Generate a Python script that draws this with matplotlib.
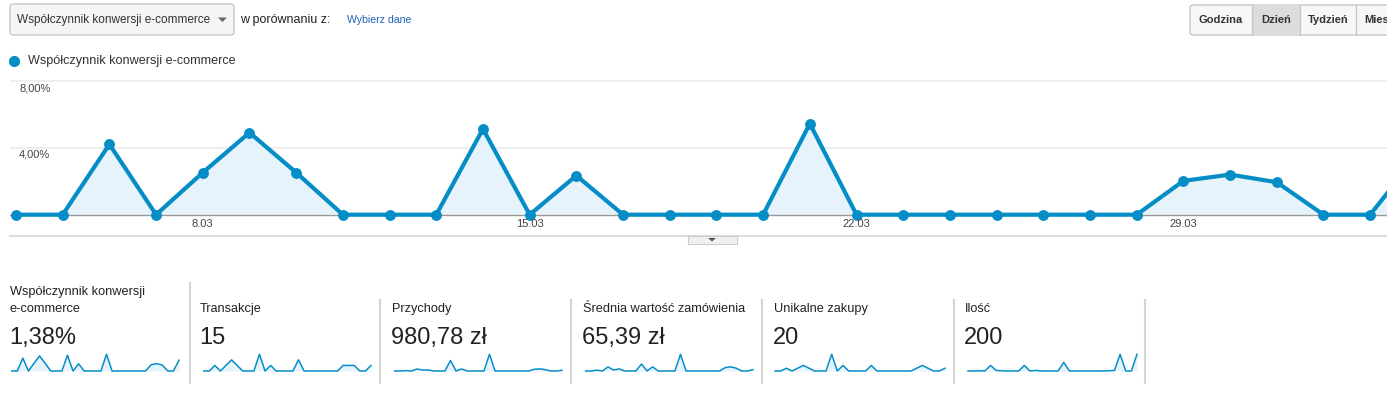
import matplotlib.pyplot as plt
from matplotlib.patches import Rectangle, FancyBboxPatch, Polygon
from matplotlib.transforms import Affine2D

plt.rcParams['font.family'] = ['Liberation Sans', 'DejaVu Sans']

# dni (4.03 - 3.04)
days = ['4.03', '5.03', '6.03', '7.03', '8.03', '9.03', '10.03', '11.03', '12.03', '13.03',
        '14.03', '15.03', '16.03', '17.03', '18.03', '19.03', '20.03', '21.03', '22.03', '23.03',
        '24.03', '25.03', '26.03', '27.03', '28.03', '29.03', '30.03', '31.03', '1.04', '2.04', '3.04']
tick_days = ['8.03', '15.03', '22.03', '29.03']
y_ticks = [4, 8]
y_tick_labels = ['4,00%', '8,00%']

conversion = [0, 0, 4.23, 0, 2.53, 4.93, 2.53, 0, 0, 0, 5.15, 0, 2.35, 0, 0, 0,
              0, 5.47, 0, 0, 0, 0, 0, 0, 0, 2.03, 2.41, 1.95, 0, 0, 3.54]
transactions = [0, 0, 1, 0, 1, 2, 1, 0, 0, 0, 3, 0, 1, 0, 0, 0,
                0, 2, 0, 0, 0, 0, 0, 0, 0, 1, 1, 1, 0, 0, 1]
revenue = [0, 0, 9.90, 0, 49.90, 24.50, 26.00, 0, 0, 0, 259.80, 0, 51.20, 0, 0, 0,
           0, 414.28, 0, 0, 0, 0, 0, 0, 0, 41.50, 52.00, 34.50, 0, 0, 17.20]
avg_order = [0, 0, 9.90, 0, 49.90, 12.25, 26.00, 0, 0, 0, 86.60, 0, 51.20, 0, 0, 0,
             0, 207.14, 0, 0, 0, 0, 0, 0, 0, 41.50, 52.00, 34.50, 0, 0, 17.20]
unique_buys = [0, 0, 1, 0, 1, 2, 1, 0, 0, 0, 6, 0, 2, 0, 0, 0,
               0, 2, 0, 0, 0, 0, 0, 0, 0, 1, 2, 1, 0, 0, 1]
quantity = [0, 0, 1, 0, 20, 2, 1, 0, 0, 0, 20, 0, 2, 0, 0, 0,
            0, 31, 0, 0, 0, 0, 0, 0, 0, 1, 2, 60, 0, 0, 60]

card_titles = ['Współczynnik konwersji\ne-commerce', 'Transakcje', 'Przychody',
               'Średnia wartość zamówienia', 'Unikalne zakupy', 'Ilość']
card_values = ['1,38%', '15', '980,78 zł', '65,39 zł', '20', '200']
card_series = [conversion, transactions, revenue, avg_order, unique_buys, quantity]

BLUE = '#058dc7'
FILL = '#e6f3fa'
W, H = 1387, 398

fig = plt.figure(figsize=(W / 100, H / 100), dpi=100)
fig.patch.set_facecolor('white')

# współrzędne w pikselach (y w dół)
T = Affine2D().scale(1 / W, -1 / H).translate(0, 1) + fig.transFigure


def px_axes(x0, y0, x1, y1):
    return fig.add_axes([x0 / W, 1 - y1 / H, (x1 - x0) / W, (y1 - y0) / H])


# --- górny pasek ---
fig.add_artist(FancyBboxPatch((10, 4), 224, 31, boxstyle='round,pad=0,rounding_size=3',
                              transform=T, facecolor='#f5f5f5', edgecolor='#c8c8c8', lw=1))
fig.text(17, 20, 'Współczynnik konwersji e-commerce', transform=T, fontsize=8.5,
         color='#333333', va='center')
fig.add_artist(Polygon([[218, 17.5], [227, 17.5], [222.5, 22]], closed=True, transform=T,
                       facecolor='#666666', edgecolor='none'))
fig.text(240, 20, 'w porównaniu z:', transform=T, fontsize=9, color='#222222', va='center')
fig.text(347, 20, 'Wybierz dane', transform=T, fontsize=7.6, color='#1c63b7', va='center')

fig.add_artist(FancyBboxPatch((1190, 5), 215, 30, boxstyle='round,pad=0,rounding_size=3',
                              transform=T, facecolor='#f7f7f7', edgecolor='#c8c8c8', lw=1))
fig.add_artist(Rectangle((1252, 5), 48, 30, transform=T, facecolor='#dcdcdc',
                         edgecolor='none'))
for sx in [1252, 1300, 1356]:
    fig.add_artist(plt.Line2D([sx, sx], [5, 35], transform=T, color='#c8c8c8', lw=1))
for label, cx in [('Godzina', 1221), ('Dzień', 1276), ('Tydzień', 1328)]:
    fig.text(cx, 20, label, transform=T, fontsize=8, fontweight='bold', color='#333333',
             ha='center', va='center')
fig.text(1364, 20, 'Mies', transform=T, fontsize=8, fontweight='bold', color='#333333',
         va='center')

# legenda
fig.add_artist(plt.Line2D([14], [61], transform=T, marker='o', markersize=7,
                          color=BLUE, lw=0))
fig.text(28, 61, 'Współczynnik konwersji e-commerce', transform=T, fontsize=9.1,
         color='#333333', va='center')

# --- wykres główny ---
ax = px_axes(10, 78, 1387, 236)
x = list(range(len(days)))
ax.set_xlim(-0.1285, 29.36)
ax.set_ylim(-1.28, 8.21)
ax.fill_between(x, conversion, 0, color=FILL, zorder=1, lw=0)
for v in y_ticks:
    ax.axhline(v, color='#eeeeee', lw=1.5, zorder=0)
ax.axhline(0, color='#999999', lw=1, zorder=2)
ax.plot(x, conversion, color=BLUE, lw=3, marker='o', markersize=6.8, zorder=3,
        solid_joinstyle='miter')
for v, lab in zip(y_ticks, y_tick_labels):
    ax.annotate(lab, xy=(0, v), xycoords=('axes fraction', 'data'), xytext=(6.5, -4.8),
                textcoords='offset points', fontsize=8, color='#444444', va='center')
for d in tick_days:
    ax.text(days.index(d), -0.57, d, fontsize=8, color='#444444', ha='center', va='center')
ax.set_xticks([])
ax.set_yticks([])
for s in ['top', 'left', 'right']:
    ax.spines[s].set_visible(False)
ax.spines['bottom'].set_color('#dddddd')
ax.spines['bottom'].set_linewidth(1.5)

# przycisk zwijania
fig.add_artist(Rectangle((688, 236), 49, 8, transform=T, facecolor='#f0f0f0',
                         edgecolor='#cccccc', lw=0.8))
fig.add_artist(Polygon([[708, 238], [716, 238], [712, 241.5]], closed=True, transform=T,
                       facecolor='#555555', edgecolor='none'))

# --- karty z podsumowaniem ---
card_left = [10, 200, 392, 583, 774, 965]
spark_x = [(11.7, 179), (203.7, 371), (394.7, 562), (585.7, 753), (775, 945), (968, 1137)]
for sep in [190, 380, 571, 762, 954, 1145]:
    top = 283 if sep == 190 else 300
    fig.add_artist(plt.Line2D([sep, sep], [top, 383], transform=T, color='#d4d4d4', lw=1.5))

for i in range(6):
    if i == 0:
        fig.text(card_left[i], 292, 'Współczynnik konwersji', transform=T, fontsize=9.2,
                 color='#222222', va='center')
        fig.text(card_left[i], 309, 'e-commerce', transform=T, fontsize=9.2,
                 color='#222222', va='center')
    else:
        fig.text(card_left[i], 309, card_titles[i], transform=T, fontsize=9.2,
                 color='#222222', va='center')
    fig.text(card_left[i] - 1, 338, card_values[i], transform=T, fontsize=17,
             color='#222222', va='center')

    x0, x1 = spark_x[i]
    sax = px_axes(x0, 354.3, x1, 371)
    vals = card_series[i]
    sax.set_xlim(0, len(vals) - 1)
    sax.set_ylim(0, max(vals))
    sax.fill_between(range(len(vals)), vals, 0, color=FILL, lw=0, clip_on=False)
    sax.plot(range(len(vals)), vals, color=BLUE, lw=1.1, clip_on=False)
    sax.axis('off')

fig.savefig('out.png', dpi=100)
